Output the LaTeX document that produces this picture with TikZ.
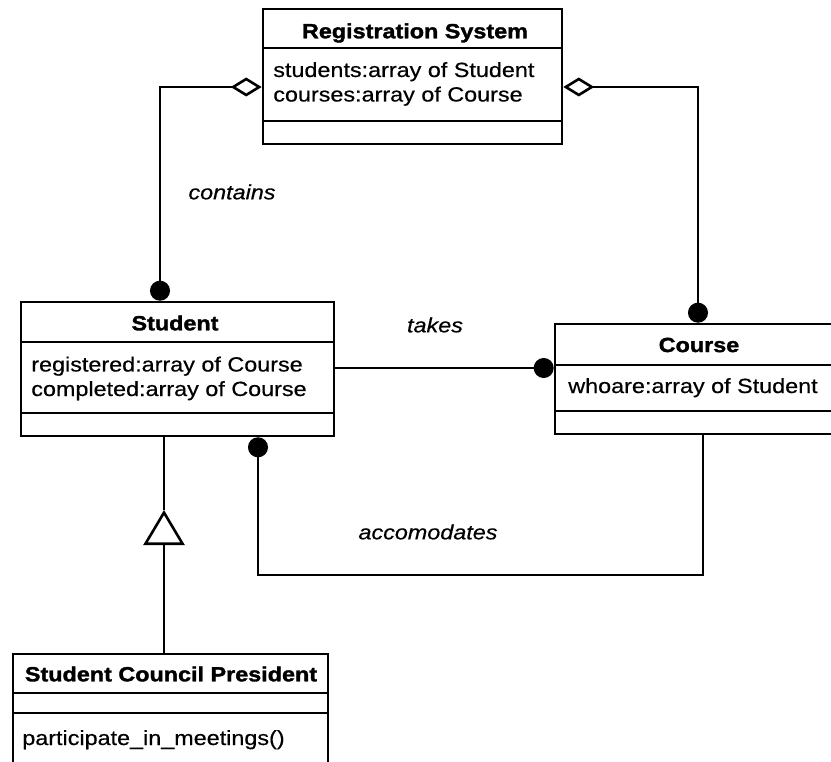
\documentclass[tikz,border=0pt]{standalone}
\usepackage{fontspec}
\setmainfont{Liberation Sans}[FakeStretch=1.14,UprightFeatures={FakeBold=0.5},ItalicFeatures={FakeBold=0.5},BoldFeatures={FakeBold=1.6}]
\usetikzlibrary{arrows.meta}
\begin{document}
\begin{tikzpicture}[x=1pt,y=-1pt,line width=2.6pt,
  box/.style={draw,rectangle,inner sep=0pt,line width=2.6pt},
  ttl/.style={font=\fontsize{20.5}{24}\selectfont\bfseries,inner sep=0pt},
  attr/.style={font=\fontsize{20.5}{24}\selectfont,inner sep=0pt,anchor=base west},
  lbl/.style={font=\fontsize{20.5}{24}\selectfont\itshape,inner sep=0pt},
  dotend/.style={-{Circle[length=20pt,width=20pt]}},
  dotstart/.style={{Circle[length=20pt,width=20pt]}-},
  aggdot/.style={{Diamond[open,fill=white,length=31pt,width=19pt]}-{Circle[length=20pt,width=20pt]}},
  gen/.style={-{Triangle[open,fill=white,length=35pt,width=41pt]}}
]
\useasboundingbox (0,0) rectangle (831,762);

% Registration System
\node[box,minimum width=299pt,minimum height=135pt] (reg) at (412.5,76.5) {};
\draw (263,48) -- (562,48);
\draw (263,121) -- (562,121);
\node[ttl] (regt) at (415,33) {Registration System};
\node[attr] (rega1) at (272,77) {students:array of Student};
\node[attr] (rega2) at (272,101.5) {courses:array of Course};

% Student
\node[box,minimum width=313pt,minimum height=134pt] (stu) at (177.5,369) {};
\draw (21,342) -- (334,342);
\draw (21,413) -- (334,413);
\node[ttl] (stut) at (175,323) {Student};
\node[attr] (stua1) at (30,371.5) {registered:array of Course};
\node[attr] (stua2) at (30,396) {completed:array of Course};

% Course
\node[box,minimum width=277pt,minimum height=110pt] (crs) at (693.5,379) {};
\draw (555,365) -- (832,365);
\draw (555,411) -- (832,411);
\node[ttl] (crst) at (699,345) {Course};
\node[attr] (crsa1) at (567,393) {whoare:array of Student};

% Student Council President
\node[box,minimum width=315pt,minimum height=109pt] (scp) at (170.5,708.5) {};
\draw (13,693) -- (328,693);
\draw (13,713) -- (328,713);
\node[ttl] (scpt) at (171,674) {Student Council President};
\node[attr] (scpa1) at (21,745) {participate\_in\_meetings()};

% connectors
\coordinate (cL) at (160,87);
\coordinate (cR) at (698,87);
\draw[aggdot] (reg.west |- cL) -- (cL) -- (cL |- stu.north);
\draw[aggdot] (reg.east |- cR) -- (cR) -- (cR |- crs.north);

\coordinate (tk) at (0,368);
\draw[dotend] (stu.east |- tk) -- (crs.west |- tk);

\coordinate (aL) at (258,575);
\coordinate (aR) at (703,575);
\draw[dotstart] (aL |- stu.south) -- (aL) -- (aR) -- (aR |- crs.south);

\coordinate (ta) at (164,510);
\draw[gen] (ta |- scp.north) -- (ta);
\draw (ta) -- (ta |- stu.south);

% labels
\node[lbl] (lc) at (232,192) {contains};
\node[lbl] (lt) at (435,325) {takes};
\node[lbl] (la) at (428,532) {accomodates};
\end{tikzpicture}
\end{document}
